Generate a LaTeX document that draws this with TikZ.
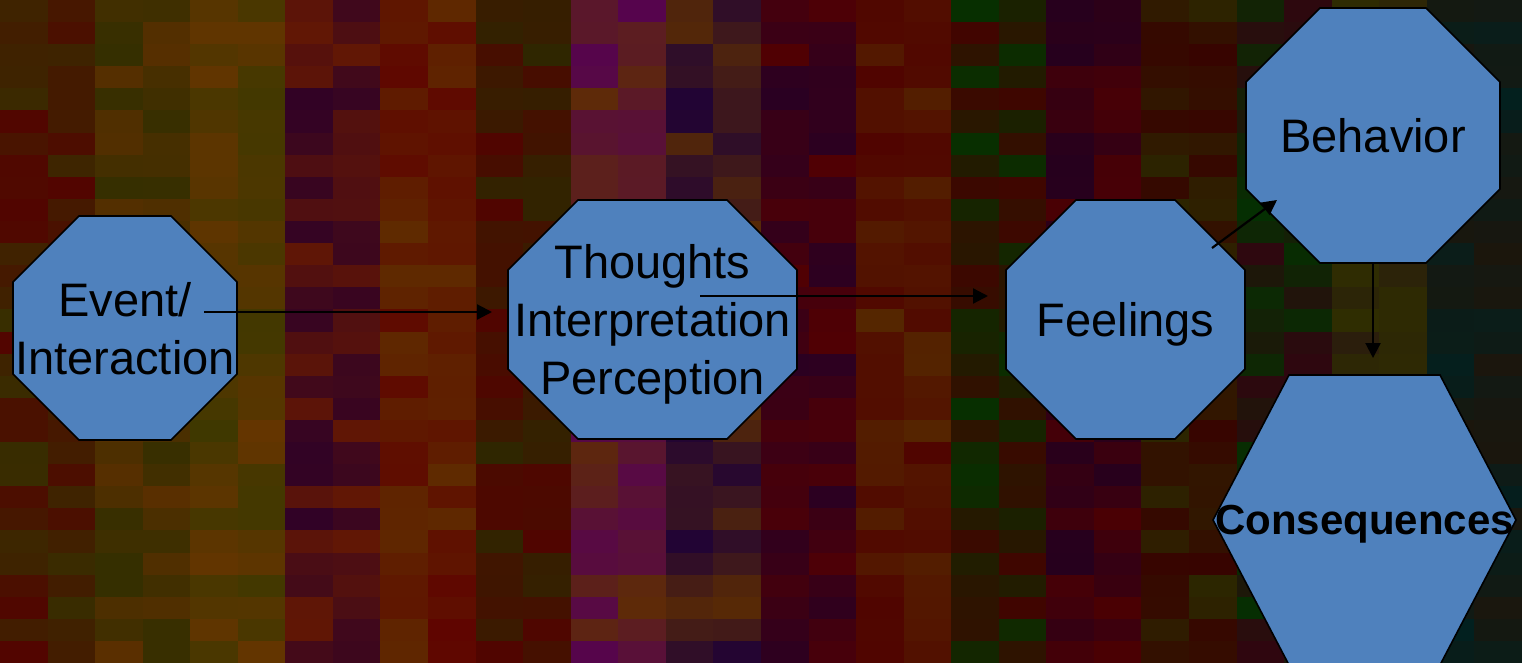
\PassOptionsToPackage{rgb}{xcolor}
\documentclass[tikz,border=0pt]{standalone}
\usepackage{fontspec}
\setmainfont{Liberation Sans}
\usetikzlibrary{arrows.meta, calc}
\definecolor{StageBlue}{RGB}{79, 129, 189}
\pgfdeclarelayer{texture}
\pgfdeclarelayer{outlines}
\pgfsetlayers{texture,outlines,main}

% octagon round a node: #1 node name, #2 size of the cut corners
\newcommand\octagonfor[2]{%
  \filldraw[stage-shape] ($(#1.north west)+(#2,0)$) -- ($(#1.north east)+(-#2,0)$)
    -- ($(#1.north east)+(0,#2)$) -- ($(#1.south east)+(0,-#2)$)
    -- ($(#1.south east)+(-#2,0)$) -- ($(#1.south west)+(#2,0)$)
    -- ($(#1.south west)+(0,-#2)$) -- ($(#1.north west)+(0,#2)$) -- cycle;}
% hexagon round a node: #1 node name, #2 inset of the top and bottom edges
\newcommand\hexagonfor[2]{%
  \filldraw[stage-shape] ($(#1.north west)+(#2,0)$) -- ($(#1.north east)+(-#2,0)$)
    -- (#1.east) -- ($(#1.south east)+(-#2,0)$) -- ($(#1.south west)+(#2,0)$)
    -- (#1.west) -- cycle;}

\begin{document}
\begin{tikzpicture}[x=1pt, y=-1pt,
    % --- Styles ---
    % Style for the text of each stage
    stage/.style={
        inner sep=0pt, outer sep=0pt,
        align=center,
        text depth=0pt, % centre on the capitals
        font=\fontsize{47}{58}\selectfont
    },
    % Style for the blue shapes
    stage-shape/.style={
        fill=StageBlue,
        draw=black,
        line width=1.6pt,
        line join=miter
    },
    % Style for the connecting arrows
    flow-arrow/.style={
        -{Triangle[length=15pt, width=15pt]},
        line width=2.2pt,
        draw=black
    }
]
\useasboundingbox (0,0) rectangle (1522,663);
\clip (0,0) rectangle (1522,663);

% --- Background texture ---
\begin{pgfonlayer}{texture}
\fill[black] (0,0) rectangle (1522,663);
\pgfmathsetseed{11}
\foreach \base/\alt [count=\i from 0] in {
    olive!55!black/red!45!black, orange!50!black/olive!50!black,
    olive!60!black/orange!55!black, orange!50!red!55!black/violet!45!black,
    red!50!black/orange!50!black, olive!45!black/red!45!black,
    magenta!45!black/orange!50!black, blue!35!violet!45!black/orange!50!black,
    violet!40!black/red!45!black, red!42!black/orange!45!black,
    red!38!black/green!28!black, red!42!black/violet!35!black,
    red!30!black/olive!45!black, purple!38!black/green!28!black,
    olive!50!black/brown!30!black, brown!22!black/teal!35!black} {
  \colorlet{texA}{\base}
  \colorlet{texB}{\alt}
  \foreach \half in {0,1} {
    \foreach \j in {0,...,29} {
      \pgfmathrandominteger{\m}{10}{90}
      \fill[texA!\m!texB] ({(2*\i+\half)*47.56},{\j*22.1}) rectangle ++(48.5,23);
    }
  }
}
\fill[black, opacity=0.25] (0,0) rectangle (1522,663);
\end{pgfonlayer}

% --- Stages ---
\node[stage, minimum width=224pt, minimum height=224pt] (event) at (125,328) {Event/\\Interaction};
\node[stage, minimum width=289pt, minimum height=239pt] (thoughts) at (652.5,319.5) {Thoughts\\Interpretation\\Perception};
\node[stage, minimum width=239pt, minimum height=239pt] (feelings) at (1125.5,319.5) {Feelings};
\node[stage, minimum width=254pt, minimum height=255pt] (behavior) at (1373,135.5) {Behavior};
\node[stage, minimum width=303pt, minimum height=290pt, font=\fontsize{42}{50}\selectfont\bfseries] (consequences) at (1364.5,520) {Consequences};

\begin{pgfonlayer}{outlines}
\octagonfor{event}{66}
\octagonfor{thoughts}{70}
\octagonfor{feelings}{70}
\octagonfor{behavior}{74}
\hexagonfor{consequences}{76}
\end{pgfonlayer}

% --- Arrows ---
\draw[flow-arrow] ($(event.east)+(-33,-16)$) -- ($(thoughts.west)+(-16,-7.5)$);
\draw[flow-arrow] ($(thoughts.center)+(47.5,-23.5)$) -- ($(feelings.west)+(-18,-23.5)$);
\draw[flow-arrow] ($(feelings.east)+(-33,-71.5)$) -- ($(behavior.south west)+(31,-63)$);
\draw[flow-arrow] (behavior.south) -- ($(consequences.north)+(8.5,-17)$);

\end{tikzpicture}
\end{document}
